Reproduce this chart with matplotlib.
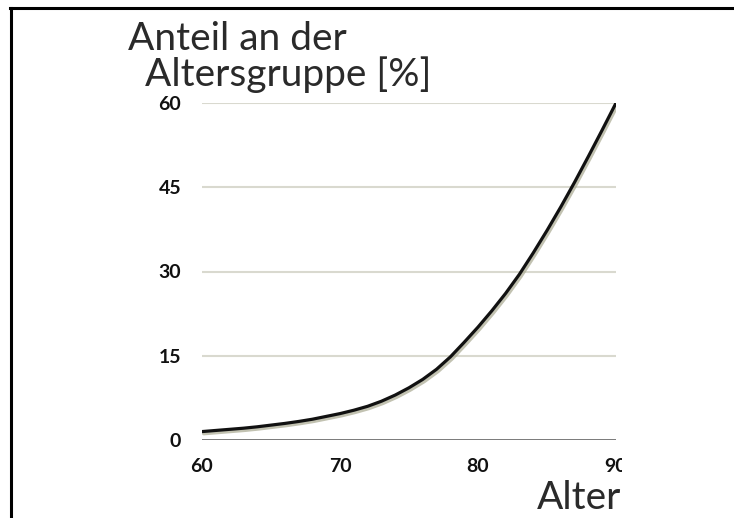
import matplotlib
matplotlib.use("Agg")
import matplotlib.pyplot as plt
import matplotlib.patheffects as pe
from matplotlib.lines import Line2D
from matplotlib.transforms import Bbox

# Anteil an der Altersgruppe (je Lebensjahr)
alter = list(range(60, 91))
anteil = [1.5, 1.7, 1.9, 2.1, 2.35, 2.65, 2.95, 3.3, 3.7, 4.2,
          4.7, 5.3, 6.0, 6.9, 8.0, 9.3, 10.8, 12.6, 14.8, 17.4,
          20.1, 23.0, 26.1, 29.5, 33.3, 37.3, 41.5, 45.9, 50.5, 55.2,
          60.0]
xticks = [60, 70, 80, 90]
yticks = [0, 15, 30, 45, 60]

plt.rcParams['font.family'] = ['Lato', 'DejaVu Sans']

W, H = 734, 518
fig = plt.figure(figsize=(W / 100, H / 100), dpi=100)
ax = fig.add_axes([202 / W, 78 / H, 414 / W, 337 / H])

# gitternetz
for y in yticks[1:]:
    ax.axhline(y, color='#d9d9cf', lw=1.5, zorder=1)
ax.axhline(0, color='#707070', lw=1.3, zorder=1)

ax.plot(alter, anteil, color='#111111', lw=2.3, solid_capstyle='round', zorder=3,
        path_effects=[pe.SimpleLineShadow(offset=(1.2, -1.6), shadow_color='#a8a890', alpha=0.7),
                      pe.Normal()])

ax.set_xlim(60, 90)
ax.set_ylim(0, 60)
ax.set_xticks(xticks)
ax.set_yticks(yticks)
ax.tick_params(length=0, labelsize=14)
for lab in ax.get_xticklabels() + ax.get_yticklabels():
    lab.set_fontweight('bold')
    lab.set_color('#111111')
ax.tick_params(axis='x', pad=13)
ax.tick_params(axis='y', pad=15)
for s in ax.spines.values():
    s.set_visible(False)

# "90" ist im Original rechts abgeschnitten
fig.canvas.draw()
xl = ax.get_xticklabels()[-1]
xl.set_clip_box(Bbox([[0, 0], [622, H]]))
xl.set_clip_on(True)

fig.text(128 / W, 1 - 50 / H, 'Anteil an der', fontsize=28, fontweight='normal',
         color='#2a2a2a', ha='left', va='baseline')
fig.text(145 / W, 1 - 86 / H, 'Altersgruppe [%]', fontsize=28, fontweight='normal',
         color='#2a2a2a', ha='left', va='baseline')
fig.text(621 / W, 1 - 509 / H, 'Alter', fontsize=28, fontweight='normal',
         color='#2a2a2a', ha='right', va='baseline')

# rahmen oben und links
fig.add_artist(Line2D([11 / W, 11 / W], [0, 1 - 8 / H], transform=fig.transFigure,
                      color='black', lw=2.2))
fig.add_artist(Line2D([10 / W, 1], [1 - 8 / H, 1 - 8 / H], transform=fig.transFigure,
                      color='black', lw=2.2))

fig.savefig('out.png', dpi=100)
